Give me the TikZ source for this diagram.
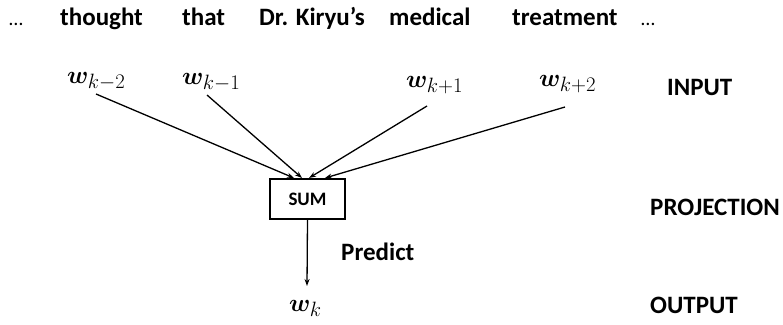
\documentclass[tikz,border=0pt]{standalone}
\usepackage{fontspec}
\usepackage{amsmath,bm}
\setmainfont{Carlito}
\DeclareMathSizes{27}{27}{22}{17}
\usetikzlibrary{arrows.meta}
\tikzset{
  word/.style={anchor=base west, inner sep=0pt, font=\fontsize{25}{30}\selectfont\bfseries},
  dots/.style={anchor=base west, inner sep=0pt, font=\fontsize{20}{24}\selectfont},
  lbl/.style={anchor=base west, inner sep=0pt, font=\fontsize{25}{30}\selectfont\bfseries},
  wvar/.style={anchor=base west, inner sep=0pt, font=\fontsize{27}{32}\selectfont},
  sumbox/.style={draw, line width=1.3pt, minimum width=75pt, minimum height=40pt, inner sep=0pt, font=\fontsize{19}{22}\selectfont\bfseries},
  arr/.style={line width=1.3pt, -{Stealth[length=7pt,width=5pt]}}
}
\begin{document}
\begin{tikzpicture}[x=1pt,y=-1pt]
\useasboundingbox (0,0) rectangle (783,324);
% top sentence
\node[dots] (d1) at (9,25) {…};
\node[word] (t1) at (60,25) {thought};
\node[word] (t2) at (182,25) {that};
\node[word] (t3) at (259,25) {Dr. Kiryu’s};
\node[word] (t4) at (389,25) {medical};
\node[word] (t5) at (512,25) {treatment};
\node[dots] (d2) at (641,25) {…};
% inputs
\node[wvar] (wm2) at (67,83) {$\bm{w}_{k-2}$};
\node[wvar] (wm1) at (182,84) {$\bm{w}_{k-1}$};
\node[wvar] (wp1) at (406,87) {$\bm{w}_{k+1}$};
\node[wvar] (wp2) at (539,86) {$\bm{w}_{k+2}$};
% layer labels
\node[lbl] (inp) at (667,95) {INPUT};
\node[lbl] (proj) at (650,215) {PROJECTION};
\node[lbl] (outp) at (650,313) {OUTPUT};
% sum box
\node[sumbox] (sum) at (307.5,199) {SUM};
% output
\node[wvar] (wk) at (289,311) {$\bm{w}_{k}$};
\node[lbl] (pred) at (341,260) {Predict};
% connectors
\coordinate (s1) at (96,94);
\coordinate (s2) at (207,95);
\coordinate (s3) at (427,106);
\coordinate (s4) at (565,107);
\coordinate (e1) at (294,178);
\coordinate (e2) at (302,178);
\coordinate (e3) at (309,178);
\coordinate (e4) at (325,178);
\coordinate (eo) at (307,286);
\draw[arr] (s1) -- (e1);
\draw[arr] (s2) -- (e2);
\draw[arr] (s3) -- (e3);
\draw[arr] (s4) -- (e4);
\draw[arr] (sum.south) -- (eo);
\end{tikzpicture}
\end{document}
